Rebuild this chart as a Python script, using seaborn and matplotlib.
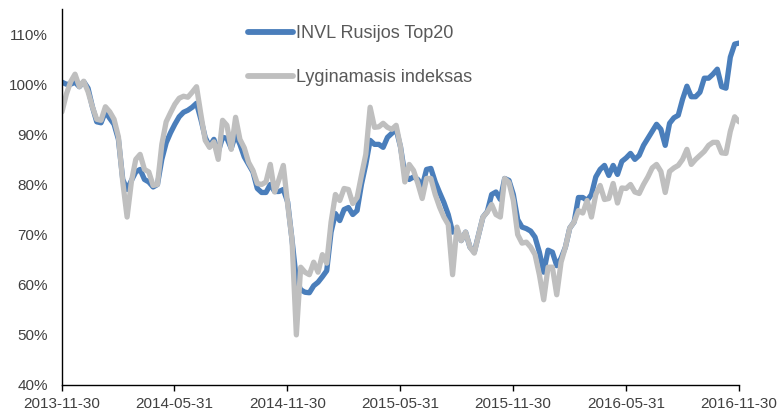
#!/usr/bin/env python3
"""INVL Rusijos Top20 vs. benchmark index, 2013-11-30 .. 2016-11-30."""

import pandas as pd
import matplotlib
matplotlib.use('Agg')
import matplotlib.pyplot as plt
import matplotlib.dates as mdates
from matplotlib.ticker import FuncFormatter
import seaborn as sns

# --- data (values in %, roughly weekly) ---
start_date = '2013-11-30'
end_date = '2016-11-30'

fund_values = [
    100.4, 100.0, 100.0, 100.4, 99.5, 100.5, 99.2, 95.5, 92.5, 92.3,
    94.5, 93.2, 92.0, 89.0, 81.0, 79.0, 80.8, 82.5, 83.0, 81.0,
    80.5, 79.5, 80.0, 85.0, 88.3, 90.3, 92.0, 93.5, 94.4, 94.8,
    95.4, 96.2, 93.0, 89.4, 87.6, 89.0, 86.5, 89.4, 89.2, 87.2,
    90.0, 88.0, 85.5, 84.0, 82.5, 79.2, 78.4, 78.4, 80.0, 78.6,
    78.6, 79.0, 76.5, 69.0, 61.0, 59.0, 58.5, 58.4, 59.8, 60.5,
    61.6, 62.8, 70.5, 74.2, 72.8, 75.0, 75.4, 74.0, 74.8, 80.0,
    84.0, 88.8, 88.0, 88.0, 87.4, 89.4, 90.2, 91.0, 87.5, 82.0,
    81.0, 81.5, 81.0, 79.6, 83.0, 83.2, 80.5, 78.4, 76.4, 74.0,
    70.5, 71.0, 68.8, 70.5, 67.5, 66.5, 70.0, 73.5, 74.6, 78.0,
    78.5, 77.0, 81.2, 80.8, 78.0, 73.0, 71.5, 71.2, 70.7, 69.5,
    66.5, 62.5, 66.9, 66.5, 63.8, 65.3, 67.5, 71.3, 72.5, 77.4,
    77.4, 76.8, 78.0, 81.5, 83.0, 83.8, 81.8, 83.8, 82.0, 84.6,
    85.3, 86.2, 85.0, 85.8, 87.8, 89.2, 90.6, 92.0, 91.0, 87.8,
    92.2, 93.3, 93.8, 97.0, 99.6, 97.5, 97.5, 98.4, 101.2, 101.2,
    102.0, 103.0, 99.5, 99.2, 105.4, 108.0, 108.2,
]

index_values = [
    94.5, 98.0, 100.5, 102.0, 99.5, 100.6, 98.5, 95.5, 93.0, 92.8,
    95.5, 94.5, 93.0, 89.5, 80.5, 73.5, 80.6, 85.0, 86.0, 83.0,
    82.5, 79.8, 80.0, 88.0, 92.5, 94.3, 96.0, 97.2, 97.6, 97.4,
    98.4, 99.5, 94.0, 88.8, 87.4, 88.5, 85.0, 92.8, 91.8, 87.0,
    93.4, 89.0, 87.3, 84.4, 82.8, 80.2, 80.0, 80.5, 84.0, 78.5,
    81.0, 83.8, 76.0, 69.0, 50.0, 63.5, 62.5, 62.0, 64.5, 62.5,
    66.0, 64.3, 72.5, 78.0, 76.8, 79.2, 79.0, 76.2, 77.4, 81.8,
    86.0, 95.4, 91.4, 91.5, 92.2, 91.4, 91.0, 91.8, 87.5, 80.5,
    84.0, 82.8, 80.2, 77.2, 81.2, 81.2, 78.0, 75.5, 73.5, 72.0,
    62.0, 71.5, 68.8, 70.5, 67.5, 66.3, 70.0, 73.5, 74.5, 76.0,
    74.0, 73.5, 81.2, 80.4, 76.8, 70.0, 68.3, 68.5, 67.5, 66.0,
    62.0, 57.0, 63.5, 63.5, 58.0, 64.5, 67.5, 71.3, 72.5, 74.8,
    74.3, 76.8, 73.5, 78.0, 79.8, 77.0, 77.2, 80.2, 76.3, 79.3,
    79.2, 80.0, 78.5, 78.2, 80.0, 81.5, 83.3, 84.0, 82.6, 78.4,
    82.6, 83.3, 83.8, 85.0, 87.0, 84.0, 85.0, 85.8, 86.6, 87.8,
    88.4, 88.4, 86.3, 86.2, 90.6, 93.5, 92.5,
]

series_names = ['INVL Rusijos Top20', 'Lyginamasis indeksas']
series_colors = ['#4A7EBB', '#BFBFBF']
tick_dates = ['2013-11-30', '2014-05-31', '2014-11-30', '2015-05-31',
              '2015-11-30', '2016-05-31', '2016-11-30']
y_ticks = [40, 50, 60, 70, 80, 90, 100, 110]


def build_frame():
    dates = pd.date_range(start_date, end_date, periods=len(fund_values))
    df = pd.DataFrame({'date': dates,
                       series_names[0]: fund_values,
                       series_names[1]: index_values})
    return df.melt(id_vars='date', var_name='series', value_name='value')


def plot_chart(df):
    sns.set_style('ticks')
    plt.rcParams['font.family'] = ['Liberation Sans', 'DejaVu Sans']

    fig = plt.figure(figsize=(7.8, 4.13), dpi=100)
    ax = fig.add_axes([62 / 780, 1 - 385 / 413, 677 / 780, 376 / 413])

    sns.lineplot(data=df, x='date', y='value', hue='series',
                 hue_order=series_names, palette=series_colors,
                 linewidth=3.8, ax=ax, legend=False)

    ax.set_xlim(pd.Timestamp(start_date), pd.Timestamp(end_date))
    ax.set_ylim(40, 115)
    ax.set_yticks(y_ticks)
    ax.yaxis.set_major_formatter(FuncFormatter(lambda v, _: f'{v:.0f}%'))
    ax.set_xticks([pd.Timestamp(d) for d in tick_dates])
    ax.xaxis.set_major_formatter(mdates.DateFormatter('%Y-%m-%d'))
    ax.set_xlabel('')
    ax.set_ylabel('')

    sns.despine(ax=ax)
    for side in ['left', 'bottom']:
        ax.spines[side].set_color('black')
        ax.spines[side].set_linewidth(1.0)
    ax.tick_params(axis='y', length=0, pad=10, labelsize=11, labelcolor='#404040')
    ax.tick_params(axis='x', length=4, width=1, color='black', pad=5,
                   labelsize=11, labelcolor='#404040')

    handles = [plt.Line2D([], [], color=c, linewidth=4.2) for c in series_colors]
    fig.legend(handles, series_names, loc='upper left',
               bbox_to_anchor=(241 / 780, 1 - 18 / 413), frameon=False,
               fontsize=13, labelcolor='#595959', handlelength=2.5,
               handletextpad=0.15, labelspacing=1.5, borderaxespad=0)

    fig.savefig('out.png', dpi=100)
    plt.close(fig)


if __name__ == '__main__':
    plot_chart(build_frame())
